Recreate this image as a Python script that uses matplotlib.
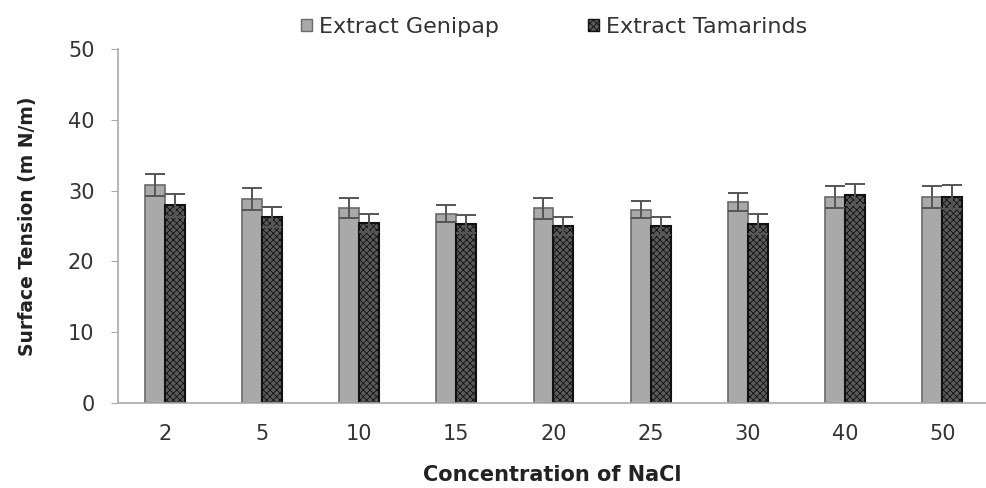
import numpy as np
import matplotlib
matplotlib.use('Agg')
import matplotlib.pyplot as plt
from matplotlib.patches import Patch

# data
nacl = ['2', '5', '10', '15', '20', '25', '30', '40', '50']
genipap = [30.8, 28.8, 27.5, 26.7, 27.5, 27.3, 28.4, 29.1, 29.1]
genipap_err = [1.6, 1.5, 1.4, 1.2, 1.5, 1.2, 1.3, 1.5, 1.6]
tamarinds = [27.9, 26.3, 25.4, 25.3, 25.0, 25.0, 25.3, 29.4, 29.1]
tamarinds_err = [1.6, 1.4, 1.3, 1.3, 1.3, 1.3, 1.4, 1.5, 1.7]

# the original is stretched sideways, so a wide font looks closer
plt.rcParams['font.family'] = ['DejaVu Sans']
plt.rcParams['hatch.color'] = '#2a2a2a'
plt.rcParams['hatch.linewidth'] = 0.6

fig = plt.figure(figsize=(9.86, 4.88), dpi=100)
ax = fig.add_axes([118/986, 1 - 403/488, 1 - 118/986, (403 - 49)/488])

x = np.arange(len(nacl))
w = 0.205
ax.bar(x - w/2, genipap, w, color='#a9a9a9', edgecolor='#6a6a6a', linewidth=1.2, zorder=2)
ax.bar(x + w/2, tamarinds, w, color='#5a5a5a', edgecolor='#111111', linewidth=1.5,
       hatch='xxxxx', zorder=2)
ax.errorbar(x - w/2, genipap, yerr=genipap_err, fmt='none', ecolor='#555555',
            elinewidth=1.4, capsize=7, capthick=1.4, zorder=3)
ax.errorbar(x + w/2, tamarinds, yerr=tamarinds_err, fmt='none', ecolor='#555555',
            elinewidth=1.4, capsize=7, capthick=1.4, zorder=3)

ax.set_xlim(-0.48, 8.45)
ax.set_ylim(0, 50)
ax.set_yticks(range(0, 51, 10))
ax.set_xticks(x)
ax.set_xticklabels(nacl)
ax.tick_params(axis='x', length=0, pad=15, labelsize=15, labelcolor='#333333')
ax.tick_params(axis='y', length=5, color='#aaaaaa', pad=12, labelsize=15, labelcolor='#333333')
for s in ['top', 'right']:
    ax.spines[s].set_visible(False)
for s in ['left', 'bottom']:
    ax.spines[s].set_color('#aaaaaa')
    ax.spines[s].set_linewidth(1.2)

ax.set_ylabel('Surface Tension (m N/m)', fontsize=13.5, fontweight='bold', color='#222222', labelpad=22)
ax.set_xlabel('Concentration of NaCl', fontsize=15, fontweight='bold', color='#222222', labelpad=15)

handles = [Patch(facecolor='#a9a9a9', edgecolor='#6a6a6a'),
           Patch(facecolor='#5a5a5a', edgecolor='#111111', hatch='xxxxx')]
fig.legend(handles, ['Extract Genipap', 'Extract Tamarinds'], loc='center',
           bbox_to_anchor=(554/986, 1 - 27/488), ncol=2, frameon=False, fontsize=16,
           handlelength=0.5, handleheight=0.5, handletextpad=0.3, columnspacing=4.0,
           labelcolor='#333333')

fig.savefig('out.png', dpi=100)
